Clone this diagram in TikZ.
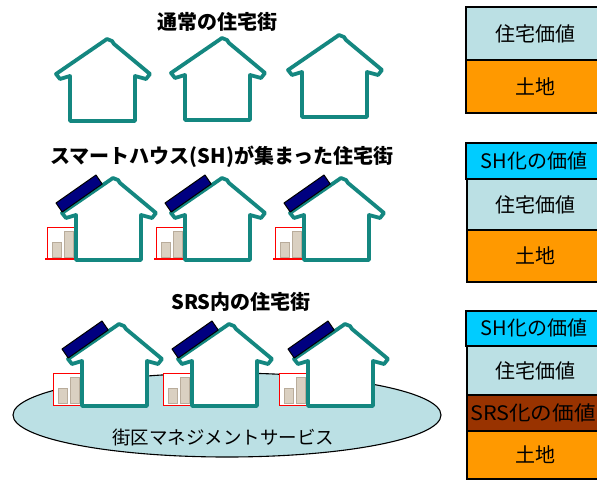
\documentclass[tikz,border=0pt]{standalone}
\usepackage{fontspec}
\newfontfamily\jp{Noto Sans CJK JP}
\usetikzlibrary{calc}
\definecolor{houseteal}{RGB}{20,135,128}
\definecolor{panelnavy}{RGB}{0,0,128}
\definecolor{paleblue}{RGB}{187,224,228}
\definecolor{skycyan}{RGB}{0,204,255}
\definecolor{valorange}{RGB}{255,153,0}
\definecolor{valbrown}{RGB}{153,51,0}
\definecolor{unitbeige}{RGB}{218,208,193}
\definecolor{unitedge}{RGB}{185,172,155}
\tikzset{
  outline/.style={draw=houseteal, fill=white, line width=3.8pt, line join=round, line cap=round},
  title/.style={font=\jp\bfseries\fontsize{20}{24}\selectfont, inner sep=0pt},
  celltext/.style={font=\jp\fontsize{20}{24}\selectfont, inner sep=0pt},
  cell/.style={draw=black, line width=1.4pt},
  house/.pic={
    \path[outline] (0,-45) -- (0,0) -- (65,0) -- (65,-45) -- (76,-42) -- (80,-47)
      -- (44,-77) -- (42,-80) -- (37,-82) -- (-14,-47) -- (-10,-42) -- cycle;
  },
  panel/.pic={
    \filldraw[fill=panelnavy, draw=black, line width=1pt, line join=round]
      (-20,-57) -- (20,-85) -- (26.2,-76) -- (-13.8,-48) -- cycle;
  },
  battery/.pic={
    \filldraw[fill=white, draw=red, line width=0.9pt] (-29,-33) rectangle (0,-1);
    \filldraw[fill=unitbeige, draw=unitedge, line width=0.5pt] (-24,-18) rectangle (-15,-3);
    \filldraw[fill=unitbeige, draw=unitedge, line width=0.5pt] (-12,-29) rectangle (-3,-3);
  },
}
\begin{document}
\begin{tikzpicture}[x=1pt, y=-1pt]
\useasboundingbox (0,0) rectangle (597,480);
\clip (0,0) rectangle (597,480);

% ---- ordinary street ----
\node[title] (t1) at (217,22) {通常の住宅街};
\pic at (70,121) {house};
\pic at (185,120) {house};
\pic at (302,117) {house};

% ---- street of smart houses ----
\node[title] (t2) at (222,157) {スマートハウス(SH)が集まった住宅街};
\foreach \hx in {76,185,304} {
  \pic at (\hx,260) {battery};
  \draw[red, line width=2.4pt] (\hx-31,259) -- (\hx,259);
  \pic at (\hx,260) {house};
  \pic at (\hx,260) {panel};
}

% ---- street inside the SRS ----
\node[title] (t3) at (241,302) {SRS内の住宅街};
\filldraw[fill=paleblue, draw=black, line width=1.1pt] (227,415) ellipse [x radius=214, y radius=42];
\node[celltext, font=\jp\fontsize{18.5}{22}\selectfont] (svc) at (223,437) {街区マネジメントサービス};
\foreach \hx in {82,192,308} {
  \pic at (\hx,406) {battery};
  \pic at (\hx,406) {house};
  \pic at (\hx,406) {panel};
}

% ---- value stacks ----
% plain house
\filldraw[cell, fill=paleblue] (466,7) rectangle (606,60);
\filldraw[cell, fill=valorange] (466,60) rectangle (606,113);
\node[celltext] (a1) at (535,34) {住宅価値};
\node[celltext] (a2) at (535,87) {土地};
% smart house
\filldraw[cell, fill=skycyan] (466,143) rectangle (606,179);
\filldraw[cell, fill=paleblue] (467,179) rectangle (606,230);
\filldraw[cell, fill=valorange] (467,230) rectangle (606,282);
\node[celltext] (b1) at (534,161) {SH化の価値};
\node[celltext] (b2) at (535,205) {住宅価値};
\node[celltext] (b3) at (535,256) {土地};
% house in the SRS
\filldraw[cell, fill=skycyan] (466,311) rectangle (606,346);
\filldraw[cell, fill=paleblue] (467,346) rectangle (606,395);
\filldraw[cell, fill=valbrown] (467,395) rectangle (606,431);
\filldraw[cell, fill=valorange] (467,431) rectangle (606,479);
\node[celltext] (c1) at (534,328) {SH化の価値};
\node[celltext] (c2) at (535,371) {住宅価値};
\node[celltext] (c3) at (533,413) {\scalebox{1.08}[1]{SRS化の価値}};
\node[celltext] (c4) at (535,455) {土地};
\end{tikzpicture}
\end{document}
